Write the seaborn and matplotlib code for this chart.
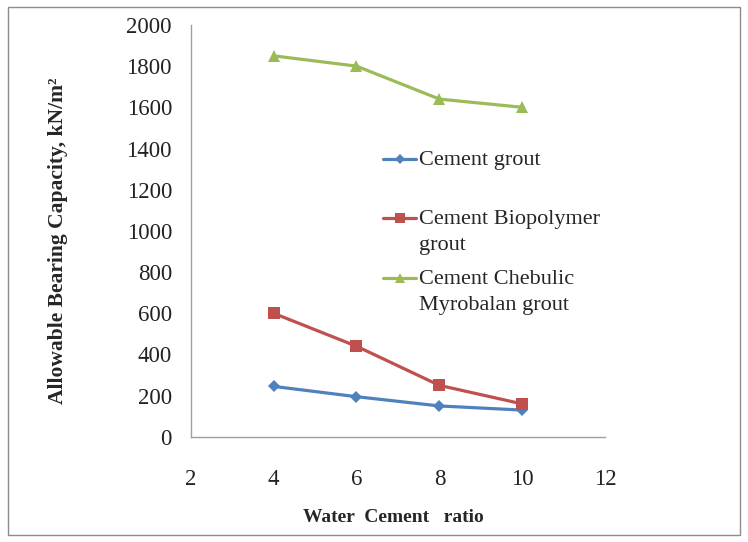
import numpy as np
import pandas as pd
import matplotlib.pyplot as plt
import seaborn as sns
import matplotlib.patches

# values
wc_ratio = [4, 6, 8, 10]
cement = [245, 195, 150, 130]
biopolymer = [600, 440, 250, 160]
chebulic = [1850, 1800, 1640, 1600]
series_names = ["Cement grout", "Cement Biopolymer\ngrout", "Cement Chebulic\nMyrobalan grout"]

df = pd.DataFrame({
    "ratio": wc_ratio * 3,
    "abc": cement + biopolymer + chebulic,
    "grout": [series_names[0]] * 4 + [series_names[1]] * 4 + [series_names[2]] * 4,
})

sns.set_style("white")
plt.rcParams["font.family"] = ["Liberation Serif", "DejaVu Serif"]

fig = plt.figure(figsize=(7.48, 5.42), dpi=100)
ax = fig.add_axes([0.255, 0.194, 0.554, 0.760])

palette = {series_names[0]: "#4F81BD", series_names[1]: "#C0504D", series_names[2]: "#9BBB59"}
markers = {series_names[0]: "D", series_names[1]: "s", series_names[2]: "^"}
sns.lineplot(data=df, x="ratio", y="abc", hue="grout", style="grout",
             palette=palette, markers=markers, dashes=False, linewidth=2.3,
             markeredgewidth=0, legend=False, ax=ax)

# marker sizes per series (diamond drawn smaller, as in the original)
for line, ms in zip(ax.lines, [6, 8.6, 8.8]):
    line.set_markersize(ms)

ax.set_xlim(2, 12)
ax.set_ylim(0, 2000)
ax.set_xticks(range(2, 13, 2))
ax.set_yticks(range(0, 2001, 200))
ax.tick_params(axis="both", length=0, labelsize=16.5, colors="#222222")
ax.tick_params(axis="x", pad=23)
ax.tick_params(axis="y", pad=13.5)
for s in ["top", "right"]:
    ax.spines[s].set_visible(False)
for s in ["left", "bottom"]:
    ax.spines[s].set_color("#a0a0a0")
    ax.spines[s].set_linewidth(1.0)

ax.set_xlabel("Water  Cement   ratio", fontsize=14, fontweight="bold")
ax.set_ylabel("Allowable Bearing Capacity, kN/m²", fontsize=15.5, fontweight="bold")
ax.xaxis.set_label_coords(0.49, -0.175)
ax.yaxis.set_label_coords(-0.295, 0.475)

# single-line label padded to two lines so entries sit on an even pitch
leg_labels = [series_names[0] + "\n", series_names[1], series_names[2]]
leg = ax.legend(ax.lines[:3], leg_labels, loc="upper left",
                bbox_to_anchor=(0.464, 0.694), frameon=False,
                fontsize=16, labelspacing=0.65, handlelength=1.5,
                handletextpad=0.1, borderpad=0, borderaxespad=0,
                markerscale=0.85)
for t in leg.get_texts():
    t.set_linespacing(1.5)
# put each handle next to the first line of its label
for col in leg._legend_handle_box.get_children():
    for row in col.get_children():
        row.align = "top"

# grey outer border like the exported chart area
fig.patches.append(matplotlib.patches.Rectangle(
    (0.011, 0.013), 0.978, 0.974, transform=fig.transFigure,
    fill=False, edgecolor="#8c8c8c", linewidth=1.0))

fig.savefig("out.png", dpi=100)
